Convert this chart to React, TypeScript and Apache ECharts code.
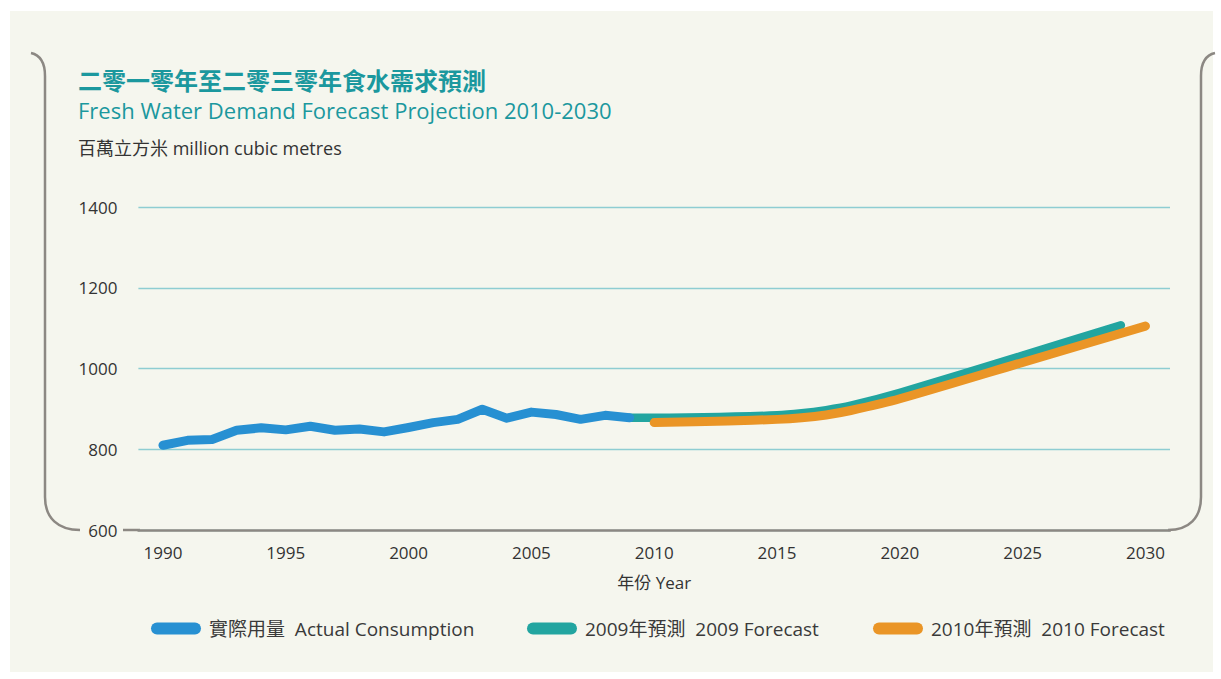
import React, { useEffect, useRef } from "react";
import * as echarts from "echarts";

const titleZh = "二零一零年至二零三零年食水需求預測";
const titleEn = "Fresh Water Demand Forecast Projection 2010-2030";
const unitLabel = "百萬立方米 million cubic metres";
const xAxisName = "年份 Year";

const seriesNames = ["實際用量  Actual Consumption", "2009年預測  2009 Forecast", "2010年預測  2010 Forecast"];

const actualYears = [1990, 1991, 1992, 1993, 1994, 1995, 1996, 1997, 1998, 1999, 2000, 2001, 2002, 2003, 2004, 2005, 2006, 2007, 2008, 2009];
const actualValues = [810, 822, 824, 847, 853, 848, 857, 847, 850, 843, 854, 866, 874, 899, 877, 892, 886, 874, 884, 878];

const forecast2009Years = [2009, 2012, 2015, 2016, 2017, 2018, 2020, 2025, 2029];
const forecast2009Values = [878, 879, 884, 889, 897, 908, 940, 1032, 1107];

const forecast2010Years = [2010, 2013, 2015, 2016, 2017, 2018, 2020, 2025, 2030];
const forecast2010Values = [866, 870, 874, 878, 885, 896, 925, 1015, 1105];

const yMin = 600;
const yMax = 1400;
const yStep = 200;
const xMin = 1989;
const xMax = 2031;
const xLabelStep = 5;

const colors = ["#2790d2", "#22a5a0", "#ea9526"];

const FONT = '"Open Sans", "Noto Sans CJK TC", sans-serif';
const PILL = "path://M6,0 L44,0 A6,6 0 0 1 44,12 L6,12 A6,6 0 0 1 6,0 Z";

const zip = (xs: number[], ys: number[]) => xs.map((x, i) => [x, ys[i]]);

echarts.graphic.registerShape(
  "bracketLeft",
  echarts.graphic.extendPath("M31,53 C40,55 45,62 45,76 L45,497 C45,518 58,530 80,530", {})
);
echarts.graphic.registerShape(
  "bracketRight",
  echarts.graphic.extendPath("M1215,53 C1206,55 1201,62 1201,76 L1201,497 C1201,518 1189,530 1168,530", {})
);

export default function App() {
  const ref = useRef<HTMLDivElement>(null);

  useEffect(() => {
    if (!ref.current) return;
    const chart = echarts.init(ref.current, null, { renderer: "svg" });
    const bracketStyle = { stroke: "#8c8883", fill: "none", lineWidth: 2.5 };
    const legendBase = {
      top: 614,
      itemWidth: 50,
      itemHeight: 12,
      icon: PILL,
      textStyle: { fontFamily: FONT, fontSize: 19, color: "#3a3a3a", padding: [0, 0, 0, 3] },
      selectedMode: false,
    };
    chart.setOption({
      animation: false,
      backgroundColor: "#ffffff",
      textStyle: { fontFamily: FONT },
      title: [
        {
          text: titleZh,
          left: 78,
          top: 68,
          padding: 0,
          textStyle: { fontFamily: FONT, fontSize: 24, fontWeight: "bold", color: "#1b989e" },
        },
        {
          text: titleEn,
          left: 78,
          top: 99,
          padding: 0,
          textStyle: { fontFamily: FONT, fontSize: 22, fontWeight: "normal", color: "#1b989e" },
        },
        {
          text: unitLabel,
          left: 78,
          top: 139,
          padding: 0,
          textStyle: { fontFamily: FONT, fontSize: 18, fontWeight: "normal", color: "#333333" },
        },
      ],
      graphic: [
        {
          type: "rect",
          z: -10,
          silent: true,
          shape: { x: 10, y: 11, width: 1203, height: 661 },
          style: { fill: "#f5f6ee" },
        },
        { type: "bracketLeft", x: 0, y: 0, silent: true, style: bracketStyle },
        { type: "bracketRight", x: 0, y: 0, silent: true, style: bracketStyle },
        {
          type: "line",
          silent: true,
          shape: { x1: 123, y1: 530, x2: 140, y2: 530 },
          style: { stroke: "#8c8883", lineWidth: 2.5 },
        },
      ],
      legend: [
        { ...legendBase, left: 146, data: [seriesNames[0]] },
        { ...legendBase, left: 522, data: [seriesNames[1]] },
        { ...legendBase, left: 868, data: [seriesNames[2]] },
      ],
      grid: { left: 138.4, top: 207, width: 1031.6, height: 323, containLabel: false },
      xAxis: {
        type: "value",
        min: xMin,
        max: xMax,
        interval: 1,
        name: xAxisName,
        nameLocation: "middle",
        nameGap: 44,
        nameTextStyle: { fontFamily: FONT, fontSize: 17, color: "#333333" },
        axisLine: { show: true, lineStyle: { color: "#8c8883", width: 2.5 } },
        axisTick: { show: false },
        splitLine: { show: false },
        axisLabel: {
          fontFamily: FONT,
          fontSize: 17,
          color: "#333333",
          margin: 14,
          formatter: (v: number) => (v % xLabelStep === 0 ? String(v) : ""),
        },
      },
      yAxis: {
        type: "value",
        min: yMin,
        max: yMax,
        interval: yStep,
        axisLine: { show: false },
        axisTick: { show: false },
        splitLine: { show: true, lineStyle: { color: "#8ecdd2", width: 1.3 } },
        axisLabel: {
          fontFamily: FONT,
          fontSize: 17,
          color: "#333333",
          margin: 21,
          formatter: (v: number) => String(v),
        },
      },
      series: [
        {
          name: seriesNames[1],
          type: "line",
          z: 2,
          data: zip(forecast2009Years, forecast2009Values),
          showSymbol: false,
          smooth: 0.25,
          color: colors[1],
          lineStyle: { width: 8.5, color: colors[1], cap: "round", join: "round" },
        },
        {
          name: seriesNames[2],
          type: "line",
          z: 3,
          data: zip(forecast2010Years, forecast2010Values),
          showSymbol: false,
          smooth: 0.25,
          color: colors[2],
          lineStyle: { width: 9, color: colors[2], cap: "round", join: "round" },
        },
        {
          name: seriesNames[0],
          type: "line",
          z: 4,
          data: zip(actualYears, actualValues),
          showSymbol: false,
          color: colors[0],
          lineStyle: { width: 9, color: colors[0], cap: "round", join: "round" },
        },
      ],
    });
    return () => chart.dispose();
  }, []);

  return (
    <div
      ref={ref}
      style={{ position: "fixed", left: 0, top: 0, width: 1221, height: 679 }}
    />
  );
}
